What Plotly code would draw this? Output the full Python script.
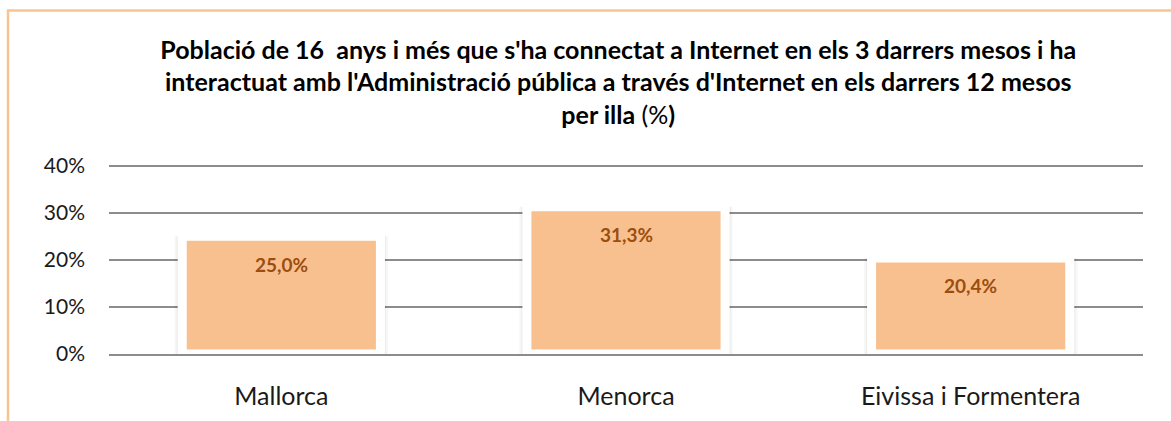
import plotly.graph_objects as go

categories = ["Mallorca", "Menorca", "Eivissa i Formentera"]
values = [0.250, 0.313, 0.204]
labels = ["25,0%", "31,3%", "20,4%"]
tick_vals = [0, 0.1, 0.2, 0.3, 0.4]
tick_text = ["0%", "10%", "20%", "30%", "40%"]

FONT = "Lato"
BAR_COLOR = "#F9C08F"
LABEL_COLOR = "#9C4E0E"
GRID = "#8C8C8C"
BORDER = "#F9C490"

Y_MAX = 0.41
PLOT_TOP = 166 - 47 * (Y_MAX - 0.4) / 0.1

fig = go.Figure()

# soft shadows behind bars
fig.add_trace(go.Bar(x=categories, y=values, width=0.620, marker=dict(color="rgba(0,0,0,0.03)", line=dict(width=0)),
                     hoverinfo="skip", showlegend=False))
fig.add_trace(go.Bar(x=categories, y=values, width=0.608, marker=dict(color="rgba(0,0,0,0.045)", line=dict(width=0)),
                     hoverinfo="skip", showlegend=False))
fig.add_trace(go.Bar(x=categories, y=values, width=0.575,
                     marker=dict(color=BAR_COLOR, line=dict(color="white", width=9)),
                     showlegend=False))

for c, v, t in zip(categories, values, labels):
    fig.add_annotation(x=c, y=v, text=f"<b>{t}</b>", showarrow=False, yanchor="middle", yshift=-28,
                       font=dict(family=FONT, size=19, color=LABEL_COLOR))

title = ("<b>Població de 16  anys i més que s'ha connectat a Internet en els 3 darrers mesos i ha</b><br>"
         "<b>interactuat amb l'Administració pública a través d'Internet en els darrers 12 mesos</b><br>"
         "<b>per illa</b> (%<b>)</b>")

fig.update_layout(
    width=1171, height=421,
    margin=dict(l=109, r=28, t=PLOT_TOP, b=67, autoexpand=False),
    paper_bgcolor="white", plot_bgcolor="white",
    barmode="overlay",
    title=dict(text=title, x=0.528, xref="container", xanchor="center", y=0.86, yref="container", yanchor="top",
               font=dict(family=FONT, size=25, color="black")),
    font=dict(family=FONT, color="black"),
    xaxis=dict(showgrid=False, showline=True, linecolor=GRID, linewidth=1.5, layer="above traces",
               tickfont=dict(family=FONT, size=25, color="#1a1a1a"), ticklabelstandoff=19, ticks="", automargin=False),
    yaxis=dict(range=[0, Y_MAX], tickvals=tick_vals, ticktext=tick_text, showgrid=True, gridcolor=GRID, gridwidth=1.5,
               zeroline=False, tickfont=dict(family=FONT, size=21, color="#1a1a1a"), ticklabelstandoff=23, ticks="",
               automargin=False),
    shapes=[dict(type="rect", xref="paper", yref="paper",
                 x0=(8 - 109) / 1034, x1=(1200 - 109) / 1034,
                 y0=-0.6, y1=(354 - 11) / (354 - PLOT_TOP),
                 line=dict(color=BORDER, width=2.5), fillcolor="rgba(0,0,0,0)", layer="below")],
)

fig.write_html("out.html", config={"displayModeBar": False},
               post_script="document.body.style.margin='0';document.body.style.overflow='hidden';")
